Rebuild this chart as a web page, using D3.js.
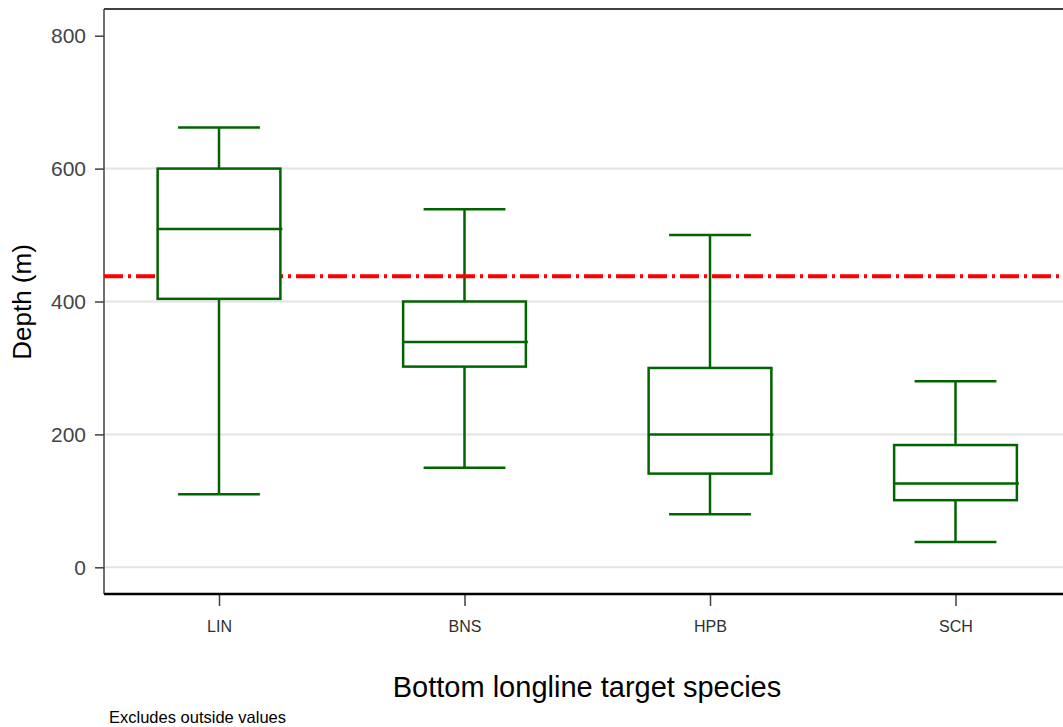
<html>
<head>
  <meta charset="utf-8">
  <script src="https://d3js.org/d3.v7.min.js"></script>
  <style>
    body { margin: 0; background: #fff; }
    text { font-family: "Liberation Sans", Arial, sans-serif; }
  </style>
  <script>
    // values
    var species = ["LIN", "BNS", "HPB", "SCH"];
    var lowWhisker = [110, 150, 80, 38];
    var q1 = [404, 302, 141, 101];
    var median = [509, 339, 200, 126];
    var q3 = [600, 400, 300, 184];
    var highWhisker = [662, 539, 500, 280];
    var yTicks = [0, 200, 400, 600, 800];
    var refDepth = 438;

    function drawChart() {
      var svg = d3.select("#chart");
      var green = "#006400";
      var left = 104, right = 1063, top = 9, bottom = 594;

      var y = d3.scaleLinear().domain([0, 800]).range([567.3, 35.7]);
      var x = d3.scalePoint().domain(species).range([219, 955.5]);
      var boxW = x.step() * 0.5;

      var ds = species.map(function (s, i) {
        return { s: s, lo: lowWhisker[i], q1: q1[i], med: median[i], q3: q3[i], hi: highWhisker[i] };
      });

      // grid lines (none at the top tick)
      svg.append("g").selectAll("line").data(yTicks.filter(t => t < 800)).enter()
        .append("line")
        .attr("x1", left).attr("x2", right)
        .attr("y1", d => y(d)).attr("y2", d => y(d))
        .attr("stroke", "#e3e3e3").attr("stroke-width", 2);

      // y axis
      var yAxis = d3.axisLeft(y).tickValues(yTicks).tickSize(9).tickPadding(9);
      var ga = svg.append("g").attr("transform", "translate(" + left + ",0)").call(yAxis);
      ga.select(".domain").remove();
      ga.selectAll(".tick line").attr("stroke", "#404040").attr("stroke-width", 1.5);
      ga.selectAll(".tick text").attr("fill", "#444")
        .style("font-size", "21px").style("font-family", "Liberation Sans, Arial, sans-serif");

      svg.append("line").attr("x1", left).attr("x2", left).attr("y1", top).attr("y2", bottom)
        .attr("stroke", "#404040").attr("stroke-width", 1.5);
      svg.append("line").attr("x1", left).attr("x2", right).attr("y1", top).attr("y2", top)
        .attr("stroke", "#404040").attr("stroke-width", 2);

      // x axis
      var xAxis = d3.axisBottom(x).tickSize(11).tickPadding(15).tickSizeOuter(0);
      var gx = svg.append("g").attr("transform", "translate(0," + (bottom + 1) + ")").call(xAxis);
      gx.select(".domain").remove();
      gx.selectAll(".tick line").attr("stroke", "#404040").attr("stroke-width", 1.5);
      gx.selectAll(".tick text").attr("fill", "#303030")
        .style("font-size", "16px").style("font-family", "Liberation Sans, Arial, sans-serif");
      svg.append("line").attr("x1", left).attr("x2", right).attr("y1", bottom).attr("y2", bottom)
        .attr("stroke", "#000").attr("stroke-width", 2.5);

      // whiskers
      var gw = svg.append("g");
      gw.selectAll(".wl").data(ds).enter().append("line")
        .attr("x1", d => x(d.s)).attr("x2", d => x(d.s))
        .attr("y1", d => y(d.lo)).attr("y2", d => y(d.hi))
        .attr("stroke", green).attr("stroke-width", 2.5);
      ["lo", "hi"].forEach(function (k) {
        gw.selectAll(".cap" + k).data(ds).enter().append("line")
          .attr("x1", d => x(d.s) - boxW / 3).attr("x2", d => x(d.s) + boxW / 3)
          .attr("y1", d => y(d[k])).attr("y2", d => y(d[k]))
          .attr("stroke", green).attr("stroke-width", 2.5);
      });

      // reference line
      svg.append("line").attr("x1", left).attr("x2", right)
        .attr("y1", y(refDepth)).attr("y2", y(refDepth))
        .attr("stroke", "#ff0000").attr("stroke-width", 4)
        .attr("stroke-dasharray", "19,5,3,5");

      // boxes
      var gb = svg.append("g");
      gb.selectAll("rect").data(ds).enter().append("rect")
        .attr("x", d => x(d.s) - boxW / 2).attr("width", boxW)
        .attr("y", d => y(d.q3)).attr("height", d => y(d.q1) - y(d.q3))
        .attr("fill", "#fff").attr("stroke", green).attr("stroke-width", 2.5);
      gb.selectAll(".med").data(ds).enter().append("line")
        .attr("x1", d => x(d.s) - boxW / 2).attr("x2", d => x(d.s) + boxW / 2 + 2)
        .attr("y1", d => y(d.med)).attr("y2", d => y(d.med))
        .attr("stroke", green).attr("stroke-width", 2.5);

      // titles
      svg.append("text").attr("x", 587).attr("y", 697).attr("text-anchor", "middle")
        .style("font-size", "29px").attr("fill", "#000").text("Bottom longline target species");
      svg.append("text").attr("transform", "translate(31,302) rotate(-90)").attr("text-anchor", "middle")
        .style("font-size", "26px").attr("fill", "#000").text("Depth (m)");
      svg.append("text").attr("x", 109).attr("y", 723)
        .style("font-size", "16.5px").attr("fill", "#000").text("Excludes outside values");
    }
  </script>
</head>
<body onload="drawChart()">
  <svg id="chart" width="1063" height="727"></svg>
</body>
</html>
